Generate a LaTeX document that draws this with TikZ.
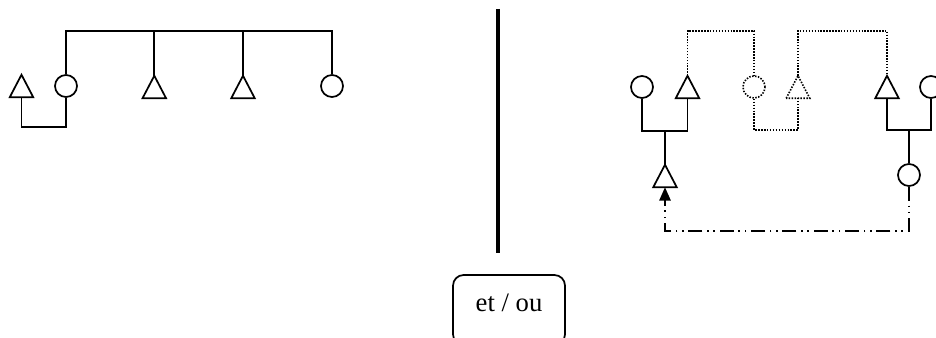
\documentclass[tikz,border=0pt]{standalone}
\usepackage{fontspec}
\setmainfont{Liberation Serif}
\usetikzlibrary{arrows.meta}
\tikzset{
  ln/.style={line width=1.3pt},
  dotline/.style={line width=1.2pt, dash pattern=on 1.1pt off 1.1pt},
  dashdotdot/.style={line width=1.3pt, dash pattern=on 10.5pt off 3.6pt on 1.1pt off 3.6pt on 1.1pt off 3.6pt},
  circ/.style={circle, draw, line width=1.3pt, minimum size=16.5pt, inner sep=0pt},
  tri/.style={minimum width=17.25pt, minimum height=16.5pt, inner sep=0pt,
    append after command={\pgfextra{\draw[line width=1.3pt, line join=miter, #1]
      (\tikzlastnode.south west) -- (\tikzlastnode.north) -- (\tikzlastnode.south east) -- cycle;}}},
  tri/.default={},
  textbox/.style={draw, line width=1.3pt, rounded corners=8pt, minimum width=84pt, minimum height=52.5pt, inner sep=0pt},
  tipstyle/.style={-{Triangle[width=8.5pt,length=10pt]}}
}
\begin{document}
\begin{tikzpicture}[x=0.75pt, y=-0.75pt]
\useasboundingbox (0,0) rectangle (936,338);
\clip (0,0) rectangle (936,338);
% left group
\node[tri] (tL) at (21.5,86) {};
\node[circ] (cA) at (66,86) {};
\node[tri] (tB) at (154.3,87) {};
\node[tri] (tC) at (243,87) {};
\node[circ] (cD) at (332,86) {};
\coordinate (barA) at (66,31);
\coordinate (barD) at (332,31);
\draw[ln] (cA.north) -- (barA) -- (barD) -- (cD.north);
\draw[ln] (tB.north) -- (tB.north |- barA);
\draw[ln] (tC.north) -- (tC.north |- barA);
\draw[ln] (tL.south) -- ++(0,30) -| (cA.south);
% middle separator
\coordinate (sepT) at (498,9);
\coordinate (sepB) at (498,253);
\draw[line width=2.4pt] (sepT) -- (sepB);
% text box
\node[textbox] (box) at (509,310) {};
\node[font=\fontsize{20pt}{24pt}\selectfont, inner sep=0pt] (lbl) at (509,303) {et / ou};
% right group
\node[circ] (c1) at (642,87) {};
\node[tri] (t2) at (687.5,87) {};
\node[circ, dotline] (c3) at (754,87) {};
\node[tri=dotline] (t4) at (798,87) {};
\node[tri] (t5) at (887,87) {};
\node[circ] (c6) at (931,87) {};
\node[tri] (t7) at (665,176) {};
\node[circ] (c8) at (909,175) {};
\draw[ln] (c1.south) -- ++(0,32) -| (t2.south);
\draw[ln] (t7.north) -- ++(0,-35);
\draw[ln] (t5.south) -- ++(0,32) -| (c6.south);
\draw[ln] (c8.north) -- ++(0,-34);
\draw[dotline] (t2.north) -- ++(0,-45) -| (c3.north);
\draw[dotline] (c3.south) -- ++(0,31) -| (t4.south);
\draw[dotline] (t4.north) -- ++(0,-45) -| (t5.north);
\draw[dashdotdot, tipstyle] (c8.south) -- ++(0,44) -| (t7.south);
\end{tikzpicture}
\end{document}
